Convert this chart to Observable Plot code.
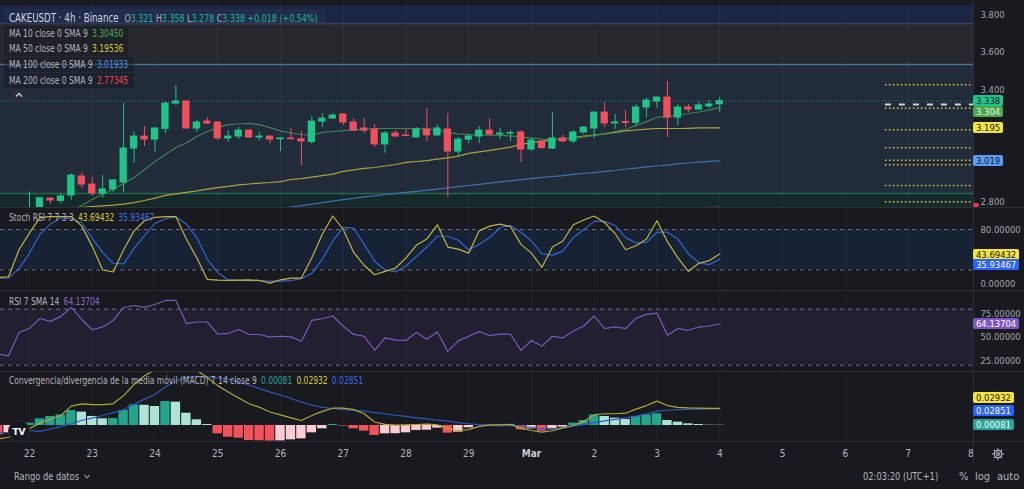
<!DOCTYPE html>
<html>
<head>
<meta charset="utf-8">
<script src="https://cdn.jsdelivr.net/npm/d3@7"></script>
<script src="https://cdn.jsdelivr.net/npm/@observablehq/plot@0.6"></script>
<style>
  html, body { margin:0; padding:0; background:#181a1f; }
  #root { position:relative; width:1024px; height:489px; overflow:hidden; background:#181a1f;
          font-family:'Liberation Sans Narrow','DejaVu Sans Condensed',Roboto,sans-serif; color:#b2b5be; }
  .abs { position:absolute; white-space:nowrap; }
  .lg { font-size:10px; line-height:13px; color:#b2b5be; transform:scaleX(0.84); transform-origin:0 50%; }
  .nar { transform:scaleX(0.84); transform-origin:0 50%; }
  .v { margin-left:5px; }
  .badge { position:absolute; left:973px; height:11px; line-height:11px; font-size:9.4px; padding:0 3px; border-radius:2px; white-space:nowrap; }
</style>
</head>
<body>
<div id="root"></div>
<script>
// ---------------- DATA ----------------
const dayTicks  = [0,1,2,3,4,5,6,7,8,9,10,11,12,13,14,15];
const dayLabels = ["22","23","24","25","26","27","28","29","Mar","2","3","4","5","6","7","8"];
const candlesPerDay = 6;

const open  = [2.752,2.745,2.818,2.806,2.835,2.936,2.893,2.845,2.867,2.904,3.085,3.149,3.133,3.190,3.325,3.336,3.192,3.229,3.224,3.139,3.149,3.181,3.144,3.149,3.135,3.139,3.135,3.120,3.229,3.245,3.267,3.224,3.192,3.187,3.107,3.165,3.155,3.144,3.187,3.155,3.187,3.069,3.133,3.149,3.181,3.160,3.165,3.171,3.080,3.123,3.085,3.139,3.123,3.171,3.192,3.277,3.219,3.227,3.222,3.304,3.336,3.357,3.250,3.304,3.293,3.310,3.321];
const high  = [2.852,2.826,2.822,2.845,2.950,2.956,2.930,2.940,2.917,3.325,3.171,3.203,3.197,3.336,3.421,3.338,3.235,3.250,3.229,3.181,3.197,3.183,3.171,3.151,3.141,3.192,3.176,3.256,3.272,3.272,3.272,3.245,3.245,3.213,3.176,3.180,3.187,3.197,3.299,3.210,3.272,3.144,3.160,3.203,3.245,3.192,3.180,3.180,3.140,3.130,3.277,3.155,3.180,3.200,3.280,3.330,3.267,3.288,3.320,3.352,3.360,3.443,3.320,3.320,3.330,3.340,3.358];
const low   = [2.720,2.720,2.787,2.790,2.810,2.872,2.830,2.820,2.851,2.851,3.005,3.096,3.064,3.165,3.315,3.190,3.171,3.213,3.128,3.117,3.133,3.142,3.128,3.112,3.069,3.133,2.995,3.107,3.197,3.240,3.208,3.176,3.165,3.091,3.060,3.149,3.149,3.144,3.123,3.149,2.824,3.040,3.112,3.112,3.155,3.133,3.123,3.011,3.070,3.080,3.080,3.117,3.112,3.160,3.139,3.197,3.187,3.197,3.200,3.250,3.300,3.144,3.208,3.277,3.288,3.300,3.278];
const close = [2.760,2.820,2.808,2.830,2.941,2.893,2.845,2.867,2.915,3.085,3.149,3.133,3.192,3.325,3.336,3.192,3.224,3.219,3.139,3.149,3.181,3.144,3.149,3.133,3.139,3.135,3.123,3.229,3.245,3.261,3.224,3.181,3.181,3.107,3.165,3.149,3.152,3.187,3.155,3.192,3.069,3.133,3.149,3.181,3.160,3.165,3.168,3.080,3.128,3.088,3.139,3.123,3.171,3.197,3.277,3.219,3.224,3.222,3.304,3.341,3.357,3.250,3.304,3.293,3.315,3.320,3.338];

// moving averages (first candle index where each line is drawn, then values)
const ma10From = 4;
const ma10  = [2.755,2.781,2.813,2.843,2.867,2.899,2.931,2.973,3.016,3.053,3.091,3.115,3.149,3.176,3.197,3.213,3.216,3.219,3.213,3.197,3.179,3.168,3.160,3.157,3.171,3.176,3.181,3.184,3.187,3.192,3.192,3.192,3.192,3.192,3.189,3.184,3.171,3.163,3.160,3.157,3.156,3.155,3.152,3.147,3.141,3.136,3.133,3.136,3.139,3.147,3.155,3.165,3.176,3.187,3.208,3.229,3.251,3.256,3.264,3.272,3.280,3.291,3.3045];
const ma50From = 4;
const ma50  = [2.765,2.772,2.776,2.779,2.783,2.789,2.797,2.808,2.821,2.835,2.843,2.851,2.859,2.869,2.877,2.883,2.891,2.896,2.901,2.904,2.909,2.920,2.925,2.933,2.941,2.949,2.963,2.971,2.979,2.984,2.992,3.000,3.011,3.016,3.021,3.029,3.035,3.045,3.059,3.067,3.075,3.083,3.093,3.107,3.117,3.123,3.131,3.136,3.144,3.152,3.157,3.163,3.171,3.179,3.184,3.189,3.192,3.192,3.192,3.193,3.195,3.195,3.19536];
const ma100From = 24;
const ma100 = [2.765,2.773,2.781,2.789,2.797,2.805,2.813,2.819,2.827,2.833,2.840,2.845,2.851,2.857,2.863,2.869,2.875,2.882,2.888,2.894,2.901,2.907,2.913,2.919,2.925,2.931,2.936,2.941,2.947,2.952,2.957,2.963,2.968,2.976,2.981,2.987,2.992,2.997,3.003,3.008,3.013,3.017,3.01933];
const ma200From = 60;
const ma200 = [2.762,2.764,2.766,2.768,2.770,2.772,2.77345];

// indicators (first candle index -3, i.e. before the first visible candle)
const indFrom = -3;
const stochK = [9,10,50,75,98,99,99,99,85,55,20,17,50,78,93,98,99,99,66,38,6,5,4.5,5,5.5,4.5,0.5,5.5,8,8,38,73,100,80,46,27,13,18,23,38,57,66,87,54,51,45,78,85,88,84,58,45,24,54,63,87,94,100,90,74,50,56,66,93,62,38,18,30,34,43.69432];
const stochD = [8,8.4,22,45,73,88,97,96,90,67,46,30,29,52,71,89,96,99,88,68,36,16,5.5,4.5,4.4,4.4,3.5,3.5,4.4,7,15,36,63,83,82,58,33,20,17,26,40,54,70,70,64,50,58,68,83,86,76,63,44,42,48,68,80,92,92,86,68,60,61,76,76,66,44,31,28,35.93467];
const rsi    = [32,30,55,59.5,70,67,72.3,82,69,58,61,68,81.6,84,82,85,89.4,89.4,64.6,66.3,66.3,53.2,54,58.2,52.9,52.9,50,51,50.3,45.7,68,70,72.7,61.7,53,51,36,49.3,46.8,46.5,55,47.9,55.6,34.8,46.1,51,56,51.8,53.2,53.2,35.9,46.5,40.4,51,49.3,56.4,62,72.7,59.3,61,59.3,70.2,74.5,75.9,52.1,59.3,57.4,60.9,62,64.13704];
const macdLine   = [-0.023,-0.020,-0.012,-0.005,0.004,0.011,0.017,0.033,0.037,0.0355,0.0355,0.037,0.051,0.070,0.085,0.095,0.105,0.108,0.102,0.094,0.082,0.068,0.057,0.047,0.037,0.031,0.023,0.018,0.013,0.0085,0.017,0.024,0.0295,0.0295,0.027,0.020,0.006,0.002,0.0005,0.001,0.0017,0.0025,0.001,-0.005,-0.0085,-0.007,-0.0015,0.0005,0.001,0.0017,-0.005,-0.0085,-0.0114,-0.009,-0.004,0,0.007,0.0183,0.020,0.020,0.021,0.028,0.034,0.0415,0.034,0.031,0.030,0.0295,0.0293,0.02932];
const macdSignal = [-0.013,-0.012,-0.009,-0.0085,-0.010,-0.006,-0.002,0.003,0.009,0.0125,0.017,0.022,0.027,0.036,0.045,0.053,0.066,0.076,0.082,0.084,0.083,0.081,0.079,0.074,0.069,0.063,0.057,0.052,0.046,0.040,0.035,0.031,0.029,0.027,0.026,0.0245,0.022,0.020,0.0175,0.0154,0.013,0.0114,0.009,0.0075,0.005,0.003,0.0015,0,-0.0005,0,-0.001,-0.003,-0.0055,-0.0065,-0.004,-0.001,0.002,0.005,0.008,0.0105,0.013,0.016,0.020,0.0245,0.026,0.027,0.0275,0.028,0.0283,0.02851];
const macdHist   = [-0.016,-0.0125,-0.004,0.004,0.0114,0.0154,0.018,0.0256,0.0228,0.0154,0.0114,0.0118,0.0256,0.035,0.0345,0.0324,0.041,0.0398,0.021,0.0097,0.0017,-0.0142,-0.02,-0.0216,-0.0256,-0.026,-0.0265,-0.0262,-0.0245,-0.0228,-0.0125,-0.0057,0.0017,-0.001,-0.0057,-0.0097,-0.017,-0.0142,-0.014,-0.0125,-0.0085,-0.008,-0.0045,-0.013,-0.0114,-0.004,0.001,0.0005,0.0008,0.002,-0.0074,-0.0057,-0.0097,-0.0057,-0.0028,0.004,0.0085,0.018,0.0154,0.0125,0.0102,0.0154,0.018,0.02,0.0085,0.0057,0.0028,0.0017,0.0006,0.00081];

// axis ticks and reference levels (3.000 / 3.200 sit under the value badges)
const priceTicks = [2.8, 3.4, 3.6, 3.8];
const stochTicks = [0, 80];
const rsiTicks   = [25, 50, 75];
const stochBands = [20, 80];
const rsiBands   = [20, 80];
// user-drawn zones / levels on the price pane
const zoneLow   = [3.752, 3.533, 2.845, 2.60];
const zoneHigh  = [3.848, 3.752, 3.533, 2.845];
const zoneEdges = [3.752, 3.533, 2.845];
const levelLines = [3.425, 3.300, 3.185, 3.089, 3.023, 2.999, 2.888, 2.801];
const dashedLevel = 3.320;
const levelFromDay = 13.64;

// ---------------- RENDER ----------------
const FONT = "'Liberation Sans Narrow','DejaVu Sans Condensed',Roboto,sans-serif";
const UP = "#1ec488", DN = "#f0505e";
const root = document.getElementById("root");
const xDomain = [-0.462, 15.044];
const tOf = i => i / candlesPerDay;

function pane(height, yDomain, marks, marginBottom = 0) {
  return Plot.plot({
    width: 1024, height, marginLeft: 0, marginRight: 51, marginTop: 0, marginBottom,
    style: {background: "transparent", color: "#b2b5be", fontFamily: FONT, fontSize: "9.4px", overflow: "visible"},
    x: {domain: xDomain, axis: null, label: null},
    y: {domain: yDomain, axis: null, label: null},
    color: {type: "identity"},
    marks
  });
}
function place(el, top) { el.style.position = "absolute"; el.style.left = "0px"; el.style.top = top + "px"; root.appendChild(el); return el; }
function div(html, css, parent = root) { const d = document.createElement("div"); d.innerHTML = html; d.style.cssText = css; parent.appendChild(d); return d; }

const grid = Plot.ruleX(dayTicks, {x: d => d, stroke: "#ffffff", strokeOpacity: 0.035});
const yAxis = (ticks, fmt) => Plot.axisY(ticks, {anchor: "right", tickSize: 0, tickPadding: 7, tickFormat: fmt, fill: "#a3a6af", fontSize: 9.4, label: null});

// ---- price pane ----
const candles = open.map((o, i) => ({t: tOf(i), o, h: high[i], l: low[i], c: close[i]}));
const maDefs = [
  {vals: ma200, from: ma200From, stroke: "#b8323c", name: "200"},
  {vals: ma100, from: ma100From, stroke: "#3f6fae", name: "100"},
  {vals: ma50,  from: ma50From,  stroke: "#aea23c", name: "50"},
  {vals: ma10,  from: ma10From,  stroke: "#3d8450", name: "10"}
];
const maRows = maDefs.flatMap(s => s.vals.map((v, k) => ({t: tOf(s.from + k), v, s: s.name, stroke: s.stroke})));
const zoneFills = ["#1c2643", "#26282e", "#212b39", "#15292a"];
const zoneEdgeColors = ["#3a4152", "#4a7291", "#1e6b50"];
const zones = zoneLow.map((lo, i) => ({lo, hi: zoneHigh[i], fill: zoneFills[i]}));
const lastClose = close[close.length - 1];

const mainPlot = pane(207, [2.7707, 3.8747], [
  Plot.rect(zones, {x1: () => xDomain[0], x2: () => xDomain[1], y1: "lo", y2: "hi", fill: "fill", clip: true}),
  Plot.ruleY(zoneEdges, {y: d => d, stroke: (d, i) => zoneEdgeColors[i], strokeWidth: 1.5}),
  grid,
  Plot.ruleY([lastClose], {y: d => d, stroke: "#1f9a7a", strokeDasharray: "1,2", strokeOpacity: 0.8}),
  Plot.line(maRows, {x: "t", y: "v", z: "s", stroke: "stroke", strokeWidth: 1.2, clip: true}),
  Plot.ruleX(candles, {x: "t", y1: "l", y2: "h", stroke: d => d.c >= d.o ? UP : DN, strokeWidth: 1, clip: true}),
  Plot.rect(candles, {x1: d => d.t - 0.058, x2: d => d.t + 0.058, y1: d => Math.min(d.o, d.c), y2: d => Math.max(d.o, d.c),
    insetTop: -0.5, insetBottom: -0.5, fill: d => d.c >= d.o ? UP : DN, clip: true}),
  Plot.ruleY(levelLines, {y: d => d, x1: () => levelFromDay, x2: () => xDomain[1], stroke: "#d9cb3c", strokeWidth: 1.5, strokeDasharray: "1.5,2.5"}),
  Plot.ruleY([dashedLevel], {y: d => d, x1: () => levelFromDay, x2: () => xDomain[1], stroke: "#d1d4dc", strokeWidth: 2, strokeDasharray: "6,8"}),
  yAxis(priceTicks, d => d.toFixed(3))
]);
place(mainPlot, 0);

// ---- stoch RSI pane ----
const indRows = stochK.map((k, j) => ({t: tOf(j + indFrom), k, d: stochD[j], r: rsi[j], m: macdLine[j], s: macdSignal[j], h: macdHist[j], hp: j > 0 ? macdHist[j - 1] : null}));
const stochPlot = pane(82, [-10.37, 111.1], [
  Plot.rect([stochBands], {x1: () => xDomain[0], x2: () => xDomain[1], y1: d => d[0], y2: d => d[1], fill: "#172334"}),
  grid,
  Plot.ruleY(stochBands, {y: d => d, stroke: "#787b86", strokeDasharray: "4,4", strokeOpacity: 0.9}),
  Plot.line(indRows, {x: "t", y: "d", stroke: "#2f66d4", strokeWidth: 1.2, clip: true}),
  Plot.line(indRows, {x: "t", y: "k", stroke: "#c3b33c", strokeWidth: 1.2, clip: true}),
  yAxis(stochTicks, d => d.toFixed(5))
]);
place(stochPlot, 208);

// ---- RSI pane ----
const rsiPlot = pane(80, [13.24, 98.98], [
  Plot.rect([rsiBands], {x1: () => xDomain[0], x2: () => xDomain[1], y1: d => d[0], y2: d => d[1], fill: "#211f30"}),
  grid,
  Plot.ruleY(rsiBands, {y: d => d, stroke: "#787b86", strokeDasharray: "4,4", strokeOpacity: 0.9}),
  Plot.line(indRows, {x: "t", y: "r", stroke: "#7e57c2", strokeWidth: 1.2, clip: true}),
  yAxis(rsiTicks, d => d.toFixed(5))
]);
place(rsiPlot, 291);

// ---- MACD pane + time axis ----
const histColor = d => d.h >= 0 ? (d.hp == null || d.h >= d.hp ? "#22a58c" : "#aee3d8") : (d.hp == null || d.h <= d.hp ? "#f2525a" : "#fdccd2");
const macdPlot = pane(93, [-0.0273, 0.0904], [
  grid,
  Plot.rect(indRows, {x1: d => d.t - 0.075, x2: d => d.t + 0.075, y1: () => 0, y2: "h", fill: histColor, clip: true}),
  Plot.line(indRows, {x: "t", y: "s", stroke: "#2d58c2", strokeWidth: 1.2, clip: true}),
  Plot.line(indRows, {x: "t", y: "m", stroke: "#b4a634", strokeWidth: 1.2, clip: true}),
  Plot.axisX(dayTicks.filter(d => dayLabels[d] !== "Mar"), {tickSize: 0, tickPadding: 8, tickFormat: d => dayLabels[d], fill: "#b2b5be", fontSize: 10, label: null}),
  Plot.axisX(dayTicks.filter(d => dayLabels[d] === "Mar"), {tickSize: 0, tickPadding: 8, tickFormat: d => dayLabels[d], fill: "#c9cbd2", fontSize: 10, fontWeight: "bold", label: null})
], 24);
place(macdPlot, 372);

// ---- separators ----
[207, 290, 371, 441].forEach(y => div("", `position:absolute;left:0;top:${y}px;width:1024px;height:1px;background:#2c2f37;`));
div("", "position:absolute;left:973px;top:0;width:1px;height:465px;background:#2c2f37;");

// ---- right-side value badges ----
function badge(plot, top, value, text, bg, fg, dy = 0, clipH = null) {
  const y = plot.scale("y").apply(value) + top + dy;
  const b = div(text, `left:973px;top:${(y - 5.5).toFixed(1)}px;background:${bg};color:${fg};`);
  b.className = "badge";
  if (clipH != null) { b.style.height = Math.max(0, clipH - (y - 5.5)) + "px"; b.style.overflow = "hidden"; }
}
badge(mainPlot, 0, lastClose, lastClose.toFixed(3), "#1ec488", "#131722");
badge(mainPlot, 0, ma10[ma10.length - 1], ma10[ma10.length - 1].toFixed(3), "#4aa84f", "#e8f5e9", 5);
badge(mainPlot, 0, ma50[ma50.length - 1], ma50[ma50.length - 1].toFixed(3), "#f5e43a", "#131722");
badge(mainPlot, 0, ma100[ma100.length - 1], ma100[ma100.length - 1].toFixed(3), "#5a9cf5", "#131722");
badge(mainPlot, 0, ma200[ma200.length - 1], "", "#f23645", "#ffffff", 1.5, 207);
const L = stochK.length - 1;
badge(stochPlot, 208, stochK[L], stochK[L].toFixed(5), "#f5e43a", "#131722", 0.5);
badge(stochPlot, 208, stochD[L], stochD[L].toFixed(5), "#2962ff", "#ffffff", 6);
badge(rsiPlot, 291, rsi[L], rsi[L].toFixed(5), "#7e57c2", "#ffffff");
badge(macdPlot, 372, macdLine[L], macdLine[L].toFixed(5), "#f5e43a", "#131722", -10);
badge(macdPlot, 372, macdSignal[L], macdSignal[L].toFixed(5), "#2962ff", "#ffffff", 2);
badge(macdPlot, 372, macdHist[L], macdHist[L].toFixed(5), "#26a69a", "#ffffff", 0);

// ---- legends ----
const n = close.length - 1;
const chg = close[n] - close[n - 1];
const pct = chg / close[n - 1] * 100;
const G = "#1fb783";
div("", "position:absolute;left:4px;top:9px;width:322px;height:16px;background:rgba(40,52,86,0.45);border-radius:2px;");
div(`<span style="font-size:11.5px;color:#d1d4dc">CAKEUSDT · 4h · Binance</span>` +
    `<span style="margin-left:7px;font-size:10.5px">O<span style="color:${G}">${open[n].toFixed(3)}</span> H<span style="color:${G}">${high[n].toFixed(3)}</span> L<span style="color:${G}">${low[n].toFixed(3)}</span> C<span style="color:${G}">${close[n].toFixed(3)}</span> <span style="color:${G}">${chg >= 0 ? "+" : ""}${chg.toFixed(3)} (${pct >= 0 ? "+" : ""}${pct.toFixed(2)}%)</span></span>`,
    "position:absolute;left:9px;top:10px;line-height:14px;white-space:nowrap;color:#b2b5be;").className = "nar";
const maLegend = [
  ["MA 10 close 0 SMA 9", ma10[ma10.length - 1].toFixed(5), "#4caf50", 27],
  ["MA 50 close 0 SMA 9", ma50[ma50.length - 1].toFixed(5), "#d8ca36", 42],
  ["MA 100 close 0 SMA 9", ma100[ma100.length - 1].toFixed(5), "#4f8fe6", 58],
  ["MA 200 close 0 SMA 9", ma200[ma200.length - 1].toFixed(5), "#f2434f", 74]
];
maLegend.forEach(([label, val, col, top]) => {
  div("", `position:absolute;left:4px;top:${top - 1}px;width:${label.length > 19 ? 130 : 124}px;height:15px;background:rgba(22,24,30,0.45);border-radius:2px;`);
  div(`${label}<span class="v" style="color:${col}">${val}</span>`, `position:absolute;left:9px;top:${top}px;`).className = "abs lg";
});
// collapse button
div(`<svg width="18" height="12"><rect width="18" height="12" rx="2" fill="#2a2d35"/><polyline points="6,7.5 9,4.5 12,7.5" fill="none" stroke="#d1d4dc" stroke-width="1.3"/></svg>`,
    "position:absolute;left:10px;top:89px;line-height:0;");

div(`Stoch RSI 7 7 3 3<span class="v" style="color:#d8ca36">${stochK[L].toFixed(5)}</span><span class="v" style="color:#3b74e8">${stochD[L].toFixed(5)}</span>`,
    "position:absolute;left:9px;top:211px;").className = "abs lg";
div(`RSI 7 SMA 14<span class="v" style="color:#8e67d2">${rsi[L].toFixed(5)}</span>`,
    "position:absolute;left:9px;top:295px;").className = "abs lg";
div(`Convergencia/divergencia de la media móvil (MACD) 7 14 close 9<span class="v" style="color:#26a69a">${macdHist[L].toFixed(5)}</span><span class="v" style="color:#d8ca36">${macdLine[L].toFixed(5)}</span><span class="v" style="color:#3b6ae0">${macdSignal[L].toFixed(5)}</span>`,
    "position:absolute;left:9px;top:374px;").className = "abs lg";

// TradingView logo
div(`<svg width="22" height="22"><circle cx="11" cy="11" r="10.5" fill="#131722" stroke="#2a2d35"/><text x="11" y="14.5" text-anchor="middle" fill="#ffffff" font-family="DejaVu Sans" font-weight="bold" font-size="9">TV</text></svg>`,
    "position:absolute;left:8px;top:420px;line-height:0;");

// bottom bar
const bar = "position:absolute;top:470px;font-size:11px;line-height:14px;color:#b2b5be;white-space:nowrap;";
div(`Rango de datos <svg width="8" height="6" style="margin-left:2px"><polyline points="1,1 4,4 7,1" fill="none" stroke="#9598a1" stroke-width="1.1"/></svg>`, bar + "left:14px;").className = "nar";
div("02:03:20 (UTC+1)", bar + "left:863px;").className = "nar";
div("%", bar + "left:959px;");
div("log", bar + "left:975px;");
div("auto", bar + "left:997px;");
// settings gear
div(`<svg width="14" height="14" viewBox="-7 -7 14 14"><g stroke="#b2b5be" stroke-width="1.2" fill="none"><circle r="3.6"/><circle r="1.4"/>` +
    [0,45,90,135,180,225,270,315].map(a => `<line x1="0" y1="-3.6" x2="0" y2="-5.8" transform="rotate(${a})"/>`).join("") + `</g></svg>`,
    "position:absolute;left:991px;top:447px;line-height:0;");
</script>
</body>
</html>
